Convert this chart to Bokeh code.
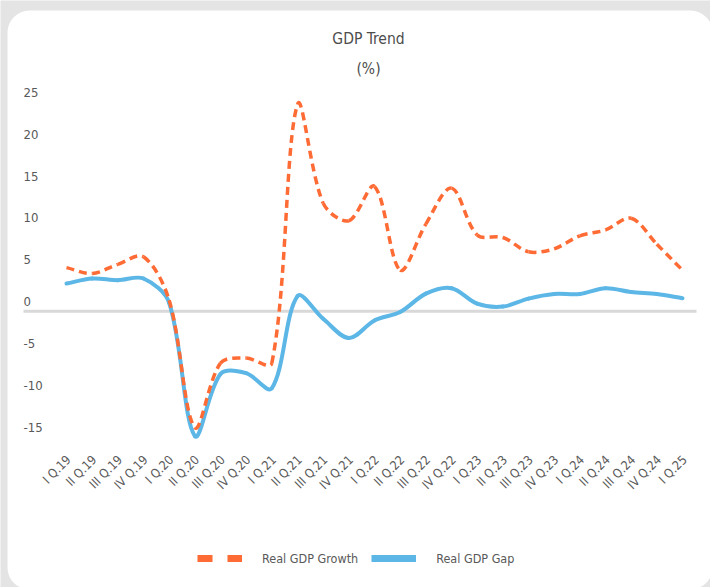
import math
from bokeh.plotting import figure
from bokeh.models import Range1d, BoxAnnotation, ColumnDataSource, Legend, LegendItem
from bokeh.core.properties import value
from bokeh.embed import file_html
from bokeh.resources import INLINE

# ---------------- data ----------------
quarters = ["I Q.19", "II Q.19", "III Q.19", "IV Q.19",
            "I Q.20", "II Q.20", "III Q.20", "IV Q.20",
            "I Q.21", "II Q.21", "III Q.21", "IV Q.21",
            "I Q.22", "II Q.22", "III Q.22", "IV Q.22",
            "I Q.23", "II Q.23", "III Q.23", "IV Q.23",
            "I Q.24", "II Q.24", "III Q.24", "IV Q.24",
            "I Q.25"]
real_gdp_growth = [5.2, 4.5, 5.6, 6.5, 1.3, -13.9, -6.2, -5.6, -6.2, 24.7,
                   12.9, 10.8, 14.9, 4.9, 10.4, 14.7, 9.1, 8.8, 7.1, 7.45,
                   9.0, 9.7, 11.1, 8.0, 4.9]
real_gdp_gap = [3.3, 3.9, 3.7, 3.9, 1.0, -14.9, -7.5, -7.4, -9.2, 1.8,
                -0.9, -3.2, -1.1, -0.1, 2.1, 2.75, 0.9, 0.55, 1.5, 2.05,
                2.05, 2.75, 2.3, 2.05, 1.55]
y_ticks = [-15, -10, -5, 0, 5, 10, 15, 20, 25]
y_tick_labels = [str(t) for t in y_ticks]
title_lines = ["GDP Trend", "(%)"]
series_names = ["Real GDP Growth", "Real GDP Gap"]

# ---------------- layout (page pixels) ----------------
W, H = 710, 587
X0_PX, DX_PX = 66.0, 25.667       # first category centre, category spacing
Y0_PX, PX_PER_UNIT = 310.7, 8.375 # zero line, pixels per unit

def dx(px):
    return (px - X0_PX) / DX_PX

def dy(py):
    return (Y0_PX - py) / PX_PER_UNIT

ORANGE = "#ff6b35"
BLUE = "#5cb6e6"
GRAY_TXT = "#595959"
BG = "#e4e4e4"
FONT = "DejaVu Sans Condensed, Liberation Sans Narrow, sans-serif"

p = figure(width=W, height=H, output_backend="svg", toolbar_location=None,
           x_range=Range1d(dx(0), dx(W)),
           y_range=Range1d(dy(H), dy(0)),
           x_axis_location=None, y_axis_location=None,
           min_border=0, outline_line_color=None,
           background_fill_color=BG, border_fill_color=BG)
p.grid.visible = False

# white rounded card
p.add_layout(BoxAnnotation(left=dx(7), right=dx(712), top=dy(10), bottom=dy(589),
                           fill_color="white", fill_alpha=1.0, line_color=None,
                           border_radius=22, level="underlay"))

# zero line
p.segment(x0=[dx(23)], x1=[dx(696)], y0=[0], y1=[0], line_color="#d9d9d9", line_width=3)

# y tick labels
p.text(x=dx(23), y="y", text="t",
       source=ColumnDataSource(dict(y=y_ticks, t=y_tick_labels)),
       text_font=value(FONT), text_font_size="13px", text_color=GRAY_TXT,
       text_align="left", text_baseline="middle", y_offset=-9.5)

# x tick labels
xs = list(range(len(quarters)))
p.text(x="x", y=dy(457), text="t",
       source=ColumnDataSource(dict(x=xs, t=quarters)),
       text_font=value(FONT), text_font_size="12.5px", text_color=GRAY_TXT,
       text_align="right", text_baseline="middle", angle=0.785398, x_offset=2)

# title
p.text(x=[dx(368), dx(368)], y=[dy(38), dy(68)], text=title_lines,
       text_font=value(FONT), text_font_size="15.5px", text_color="#4d4d4d",
       text_align="center", text_baseline="middle")


def smooth_segments(xv, yv, tension=1.0 / 3.0):
    """Bezier control points for a smoothed line (distance-weighted, screen space)."""
    n = len(xv)
    sx = [v * DX_PX for v in xv]
    sy = [v * PX_PER_UNIT for v in yv]

    def dist(a, b):
        return math.hypot(sx[b] - sx[a], sy[b] - sy[a])

    cin, cout = [], []
    for i in range(n):
        ip, inx = max(i - 1, 0), min(i + 1, n - 1)
        tx, ty = xv[inx] - xv[ip], yv[inx] - yv[ip]
        d0 = dist(ip, i) if i > 0 else 0.0
        d1 = dist(i, inx) if i < n - 1 else 0.0
        tot = d0 + d1 if d0 + d1 > 0 else 1.0
        f_in = tension * d0 / tot
        f_out = tension * d1 / tot
        cin.append((xv[i] - tx * f_in, yv[i] - ty * f_in))
        cout.append((xv[i] + tx * f_out, yv[i] + ty * f_out))
    out = dict(x0=[], y0=[], x1=[], y1=[], cx0=[], cy0=[], cx1=[], cy1=[])
    for i in range(n - 1):
        out["x0"].append(xv[i]); out["y0"].append(yv[i])
        out["x1"].append(xv[i + 1]); out["y1"].append(yv[i + 1])
        out["cx0"].append(cout[i][0]); out["cy0"].append(cout[i][1])
        out["cx1"].append(cin[i + 1][0]); out["cy1"].append(cin[i + 1][1])
    return ColumnDataSource(out)


bez = dict(x0="x0", y0="y0", x1="x1", y1="y1", cx0="cx0", cy0="cy0", cx1="cx1", cy1="cy1")
p.bezier(**bez, source=smooth_segments(xs, real_gdp_gap), line_color=BLUE, line_width=4,
         line_cap="round")
p.bezier(**bez, source=smooth_segments(xs, real_gdp_growth), line_color=ORANGE,
         line_width=3.5, line_dash="8 5")

# legend (sample renderers with nothing drawn in the plot)
nan = float("nan")
r_o = p.line(x="x", y="y", source=ColumnDataSource(dict(x=[nan], y=[nan])),
             line_color=ORANGE, line_width=7, line_dash="15 15")
r_b = p.line(x="x", y="y", source=ColumnDataSource(dict(x=[nan], y=[nan])),
             line_color=BLUE, line_width=7)
legend = Legend(items=[LegendItem(label=series_names[0], renderers=[r_o]),
                       LegendItem(label=series_names[1], renderers=[r_b])],
                orientation="horizontal",
                location=(197, H - 568),
                padding=0, margin=0, spacing=13, glyph_width=45, glyph_height=20,
                label_standoff=20, label_height=20,
                label_text_font=FONT, label_text_font_size="12.5px",
                label_text_color=GRAY_TXT, label_text_baseline="middle",
                background_fill_alpha=0, border_line_color=None)
p.add_layout(legend)

open("out.html", "w").write(file_html(p, INLINE))
